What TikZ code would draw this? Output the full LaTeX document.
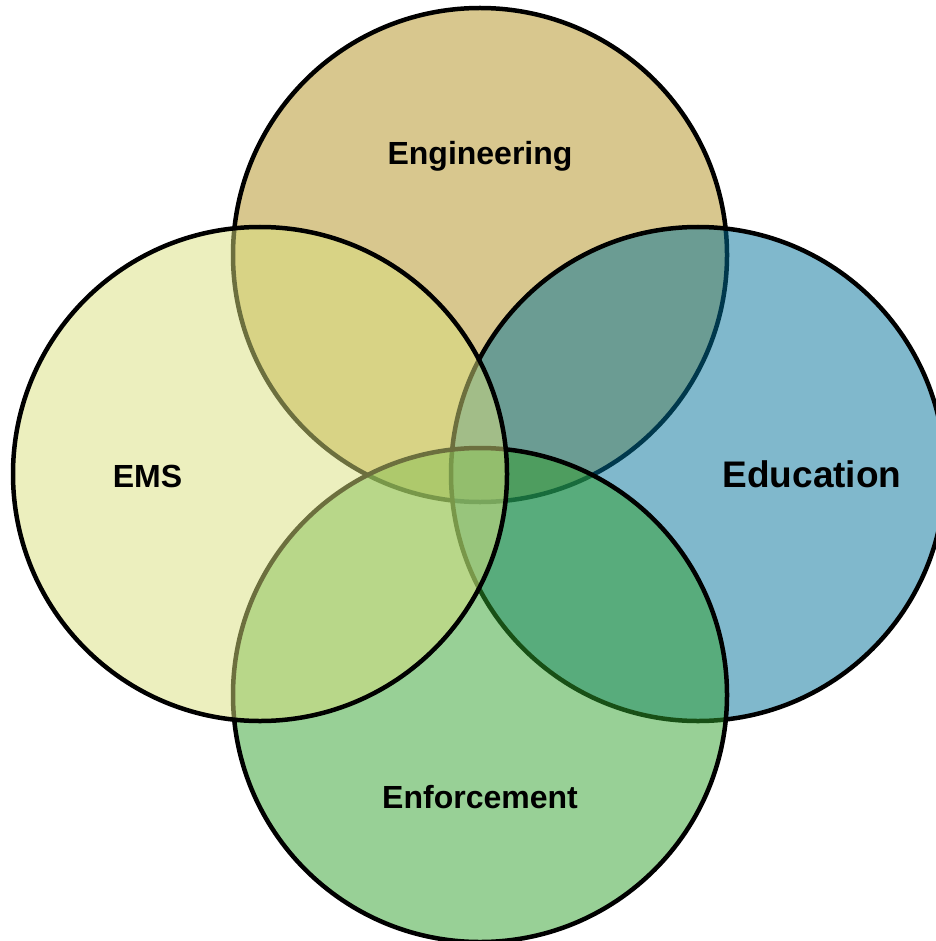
\documentclass[tikz,border=0pt]{standalone}
\usepackage{fontspec}
\setmainfont{Liberation Sans}
\definecolor{engc}{RGB}{177,143,29}
\definecolor{emsc}{RGB}{217,223,125}
\definecolor{educ}{RGB}{1,113,153}
\definecolor{enfc}{RGB}{49,161,45}
\tikzset{
  venn/.style={circle, draw=black, line width=4.5pt, fill opacity=0.5, minimum size=494pt, inner sep=0pt, outer sep=0pt},
  lbl/.style={font=\bfseries\fontsize{32}{38}\selectfont, text=black, inner sep=0pt}
}
\begin{document}
\begin{tikzpicture}[x=1pt,y=-1pt]
\useasboundingbox (0,0) rectangle (935,941);
\node[venn, fill=engc] (eng) at (480,255) {};
\node[venn, fill=educ] (edu) at (698,474) {};
\node[venn, fill=enfc] (enf) at (480,695) {};
\node[venn, fill=emsc] (ems) at (260,474) {};
\node[lbl] (tEng) at (480,156) {Engineering};
\node[lbl] (tEms) at (147.5,476) {EMS};
\node[lbl, font=\bfseries\fontsize{37}{44}\selectfont] (tEdu) at (812,474) {Education};
\node[lbl] (tEnf) at (480,797) {Enforcement};
\end{tikzpicture}
\end{document}
